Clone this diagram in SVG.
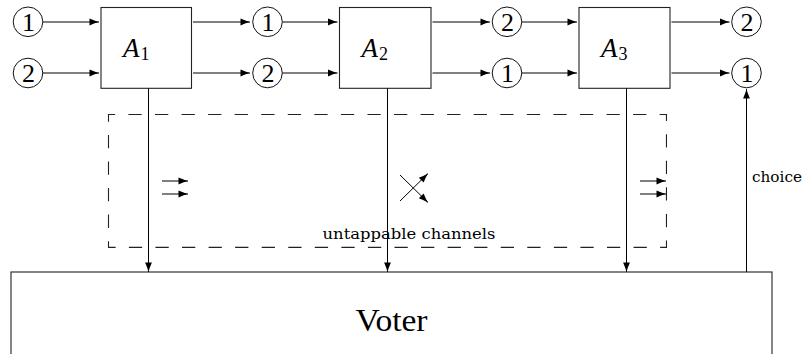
<svg xmlns="http://www.w3.org/2000/svg" width="803" height="354" viewBox="0 0 803 354">
<defs>
<marker id="ah" markerUnits="userSpaceOnUse" markerWidth="12" markerHeight="10" viewBox="-10 -5 12 10" refX="0" refY="0" orient="auto">
<path d="M-9.5,-3.4 Q-4,-1 0,0 Q-4,1 -9.5,3.4 Z" fill="#000"/>
</marker>
<style>
.ar{stroke:#000;stroke-width:1;fill:none;marker-end:url(#ah)}
.bx{fill:#fff;stroke:#222;stroke-width:1.1}
.cr{fill:#fff;stroke:#111;stroke-width:1}
.rm{font-family:"Liberation Serif","DejaVu Serif",serif;fill:#000}
.dg{font-size:26px;text-anchor:middle}
.al{font-size:27px;font-style:italic}
.sb{font-style:normal;font-size:18px}
.sm{font-family:"DejaVu Serif",serif;font-size:15px;fill:#000}
.dash{fill:none;stroke:#222;stroke-width:1.1;stroke-dasharray:13.28 13.28;stroke-dashoffset:6.64}
</style>
</defs>
<rect width="803" height="354" fill="#fff"/>

<g id="channels-box">
<rect class="dash" x="108.5" y="114.5" width="557.97" height="132.85"/>
<text class="sm" x="409" y="239" text-anchor="middle" textLength="173" lengthAdjust="spacingAndGlyphs">untappable channels</text>
</g>

<g id="voter">
<rect class="bx" x="11" y="272" width="761" height="110"/>
<text class="rm" x="391.5" y="331" font-size="32" text-anchor="middle" textLength="72" lengthAdjust="spacingAndGlyphs">Voter</text>
</g>

<g id="A1"><rect class="bx" x="101" y="7.5" width="90.5" height="80.8"/><text class="rm al" x="123" y="57">A<tspan class="sb" dx="1" dy="2.5">1</tspan></text></g>
<g id="A2"><rect class="bx" x="339.5" y="7.5" width="91.5" height="80.8"/><text class="rm al" x="361.5" y="57">A<tspan class="sb" dx="1" dy="2.5">2</tspan></text></g>
<g id="A3"><rect class="bx" x="579" y="7.5" width="91" height="80.8"/><text class="rm al" x="601" y="57">A<tspan class="sb" dx="1" dy="2.5">3</tspan></text></g>

<g id="in1"><circle class="cr" cx="28" cy="21.8" r="14.8"/><text class="rm dg" x="28.5" y="30.5">1</text></g>
<g id="in2"><circle class="cr" cx="28" cy="73" r="14.8"/><text class="rm dg" x="28.5" y="81.7">2</text></g>
<g id="m1a"><circle class="cr" cx="267.5" cy="21.8" r="14.8"/><text class="rm dg" x="268" y="30.5">1</text></g>
<g id="m1b"><circle class="cr" cx="267.5" cy="73" r="14.8"/><text class="rm dg" x="268" y="81.7">2</text></g>
<g id="m2a"><circle class="cr" cx="507" cy="21.8" r="14.8"/><text class="rm dg" x="507.5" y="30.5">2</text></g>
<g id="m2b"><circle class="cr" cx="507" cy="73" r="14.8"/><text class="rm dg" x="507.5" y="81.7">1</text></g>
<g id="out1"><circle class="cr" cx="746.5" cy="21.8" r="14.8"/><text class="rm dg" x="747" y="30.5">2</text></g>
<g id="out2"><circle class="cr" cx="746.5" cy="73" r="14.8"/><text class="rm dg" x="747" y="81.7">1</text></g>

<g id="connectors">
<line class="ar" x1="43" y1="22" x2="99" y2="22"/>
<line class="ar" x1="43" y1="73" x2="99" y2="73"/>
<line class="ar" x1="193" y1="22" x2="250" y2="22"/>
<line class="ar" x1="193" y1="73" x2="250" y2="73"/>
<line class="ar" x1="282.5" y1="22" x2="337.5" y2="22"/>
<line class="ar" x1="282.5" y1="73" x2="337.5" y2="73"/>
<line class="ar" x1="432.5" y1="22" x2="490" y2="22"/>
<line class="ar" x1="432.5" y1="73" x2="490" y2="73"/>
<line class="ar" x1="522" y1="22" x2="577" y2="22"/>
<line class="ar" x1="522" y1="73" x2="577" y2="73"/>
<line class="ar" x1="671.5" y1="22" x2="729.5" y2="22"/>
<line class="ar" x1="671.5" y1="73" x2="729.5" y2="73"/>
<line class="ar" x1="148.5" y1="88.3" x2="148.5" y2="272"/>
<line class="ar" x1="387.5" y1="88.3" x2="387.5" y2="272"/>
<line class="ar" x1="626.5" y1="88.3" x2="626.5" y2="272"/>
<line class="ar" x1="746.5" y1="272" x2="746.5" y2="89"/>
</g>

<g id="channel-symbols">
<line class="ar" x1="162" y1="181" x2="188" y2="181"/>
<line class="ar" x1="162" y1="194" x2="188" y2="194"/>
<line class="ar" x1="400" y1="175" x2="428" y2="202.5"/>
<line class="ar" x1="400" y1="201" x2="428" y2="173.5"/>
<line class="ar" x1="640" y1="181" x2="666" y2="181"/>
<line class="ar" x1="640" y1="194" x2="666" y2="194"/>
</g>

<text class="sm" x="752" y="182" textLength="50" lengthAdjust="spacingAndGlyphs">choice</text>
</svg>
